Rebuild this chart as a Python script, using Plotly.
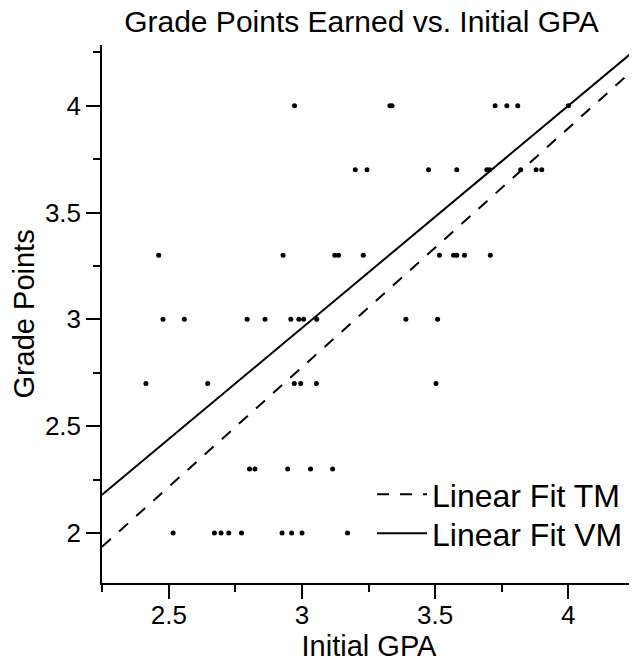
import plotly.graph_objects as go

# ---- data ----
grade_points = (
    [4.0] * 7 + [3.7] * 9 + [3.3] * 10 + [3.0] * 10 + [2.7] * 6 + [2.3] * 5 + [2.0] * 9
)
initial_gpa = (
    [2.972, 3.330, 3.338, 3.725, 3.769, 3.810, 4.000]
    + [3.200, 3.244, 3.475, 3.581, 3.694, 3.704, 3.821, 3.879, 3.900]
    + [2.462, 2.929, 3.123, 3.137, 3.230, 3.516, 3.569, 3.581, 3.610, 3.707]
    + [2.478, 2.558, 2.794, 2.861, 2.958, 2.988, 3.006, 3.055, 3.390, 3.509]
    + [2.414, 2.646, 2.971, 2.995, 3.054, 3.503]
    + [2.803, 2.823, 2.946, 3.032, 3.115]
    + [2.516, 2.671, 2.696, 2.725, 2.773, 2.925, 2.961, 3.000, 3.171]
)

fit_names = ["Linear Fit TM", "Linear Fit VM"]
fit_slopes = [1.119, 1.040]
fit_intercepts = [-0.581, -0.160]
fit_dashes = ["12px,11px", "solid"]

x_range = [2.249, 4.254]
y_range = [1.766, 4.284]

x_tickvals = [2.5, 3, 3.5, 4]
x_ticktext = ["2.5", "3", "3.5", "4"]
y_tickvals = [2, 2.5, 3, 3.5, 4]
y_ticktext = ["2", "2.5", "3", "3.5", "4"]

FONT = "Liberation Sans, Arial, Helvetica, sans-serif"

fig = go.Figure()
fig.add_trace(go.Scatter(
    x=initial_gpa, y=grade_points, mode="markers",
    marker=dict(color="black", size=5), showlegend=False, cliponaxis=False,
))
legend_ids = ["legend", "legend2"]
for name, m, b, d, lg in zip(fit_names, fit_slopes, fit_intercepts, fit_dashes, legend_ids):
    xs = x_range
    ys = [m * v + b for v in xs]
    fig.add_trace(go.Scatter(
        x=xs, y=ys, mode="lines", name=name, legend=lg,
        line=dict(color="black", width=2, dash=d),
    ))

axis_common = dict(
    showgrid=False, zeroline=False, showline=True, linecolor="black", linewidth=1.5,
    ticks="outside", ticklen=14, tickwidth=1.5, tickcolor="black",
    tickfont=dict(family=FONT, size=26, color="black"),
    minor=dict(dtick=0.25, ticks="outside", ticklen=7, tickwidth=1.5, tickcolor="black"),
    mirror=False, automargin=False,
)

W, H = 629, 656  # page body has an 8px margin inside the 637x664 window

legend_common = dict(xanchor="left", yanchor="top", bgcolor="rgba(0,0,0,0)",
                     font=dict(family=FONT, size=32, color="black"), itemwidth=50)

fig.update_layout(
    width=W, height=H,
    margin=dict(l=94, r=1, t=37, b=81),
    paper_bgcolor="white", plot_bgcolor="white",
    font=dict(family=FONT, color="black"),
    title=dict(text="Grade Points Earned vs. Initial GPA", x=353.5 / W, xref="container",
               xanchor="center", y=1 - 13 / H, yref="container", yanchor="middle",
               font=dict(family=FONT, size=30, color="black")),
    xaxis=dict(range=x_range, tickmode="array", tickvals=x_tickvals, ticktext=x_ticktext,
               ticklabelstandoff=-6,
               title=dict(text="Initial GPA", font=dict(family=FONT, size=29), standoff=2),
               **axis_common),
    yaxis=dict(range=y_range, tickmode="array", tickvals=y_tickvals, ticktext=y_ticktext,
               title=dict(text="Grade Points", font=dict(family=FONT, size=29), standoff=15),
               **axis_common),
    legend=dict(x=0.5056, y=0.2156, **legend_common),
    legend2=dict(x=0.5056, y=0.1431, **legend_common),
    showlegend=True,
)

fig.write_html("out.html")
